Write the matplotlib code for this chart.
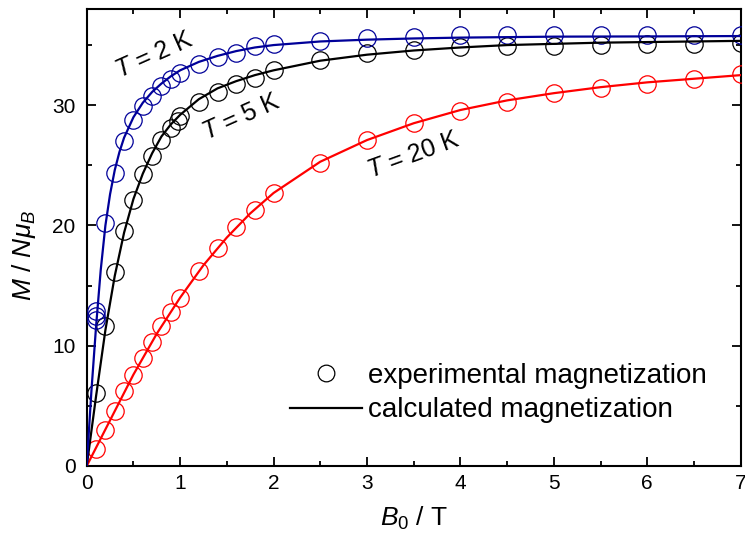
import matplotlib
matplotlib.use("Agg")
import matplotlib.pyplot as plt
from matplotlib.ticker import MultipleLocator
from matplotlib.lines import Line2D

FONT = 'Liberation Sans'
plt.rcParams['font.family'] = [FONT, 'DejaVu Sans']
plt.rcParams['mathtext.fontset'] = 'custom'
plt.rcParams['mathtext.rm'] = FONT
plt.rcParams['mathtext.it'] = FONT + ':italic'

# experimental data
x2 = [0.1, 0.1, 0.1, 0.2, 0.3, 0.4, 0.5, 0.6, 0.7, 0.8, 0.9, 1.0, 1.2, 1.4, 1.6, 1.8, 2.0,
      2.5, 3.0, 3.5, 4.0, 4.5, 5.0, 5.5, 6.0, 6.5, 7.0]
y2 = [12.9, 12.5, 12.1, 20.2, 24.4, 27.0, 28.8, 29.9, 30.8, 31.6, 32.2, 32.7, 33.4, 34.0, 34.3, 34.9, 35.1,
      35.3, 35.6, 35.7, 35.8, 35.8, 35.8, 35.8, 35.8, 35.8, 35.8]
x5 = [0.1, 0.2, 0.3, 0.4, 0.5, 0.6, 0.7, 0.8, 0.9, 0.98, 1.0, 1.2, 1.4, 1.6, 1.8, 2.0,
      2.5, 3.0, 3.5, 4.0, 4.5, 5.0, 5.5, 6.0, 6.5, 7.0]
y5 = [6.1, 11.6, 16.1, 19.5, 22.1, 24.3, 25.8, 27.1, 28.1, 28.7, 29.1, 30.25, 31.1, 31.8, 32.3, 32.9,
      33.75, 34.3, 34.6, 34.8, 34.9, 34.95, 35.0, 35.1, 35.1, 35.2]
x20 = [0.1, 0.2, 0.3, 0.4, 0.5, 0.6, 0.7, 0.8, 0.9, 1.0, 1.2, 1.4, 1.6, 1.8, 2.0,
       2.5, 3.0, 3.5, 4.0, 4.5, 5.0, 5.5, 6.0, 6.5, 7.0]
y20 = [1.4, 3.0, 4.6, 6.2, 7.6, 9.0, 10.3, 11.6, 12.8, 14.0, 16.2, 18.1, 19.9, 21.3, 22.7,
       25.2, 27.1, 28.5, 29.5, 30.3, 31.0, 31.4, 31.8, 32.2, 32.6]

# calculated curves
xc2 = [0, 0.05, 0.1, 0.15, 0.2, 0.25, 0.3, 0.35, 0.4, 0.5, 0.6, 0.7, 0.8, 0.9, 1.0, 1.2, 1.4, 1.6, 1.8, 2.0,
       2.5, 3.0, 3.5, 4.0, 5.0, 6.0, 7.0]
yc2 = [0, 6.2, 11.6, 16.3, 20.0, 22.6, 24.6, 26.1, 27.3, 29.0, 30.2, 31.1, 31.8, 32.4, 32.9, 33.6, 34.1, 34.5, 34.8, 35.0,
       35.3, 35.45, 35.55, 35.62, 35.7, 35.72, 35.75]
xc5 = [0, 0.1, 0.2, 0.3, 0.4, 0.5, 0.6, 0.7, 0.8, 0.9, 1.0, 1.2, 1.4, 1.6, 1.8, 2.0,
       2.5, 3.0, 3.5, 4.0, 4.5, 5.0, 5.5, 6.0, 6.5, 7.0]
yc5 = [0, 5.8, 11.3, 15.8, 19.4, 22.2, 24.3, 26.0, 27.4, 28.4, 29.2, 30.5, 31.4, 32.0, 32.5, 32.9,
       33.7, 34.2, 34.55, 34.8, 35.0, 35.1, 35.2, 35.25, 35.3, 35.35]
xc20 = [0, 0.25, 0.5, 0.75, 1.0, 1.25, 1.5, 1.75, 2.0, 2.5, 3.0, 3.5, 4.0, 4.5, 5.0, 5.5, 6.0, 6.5, 7.0]
yc20 = [0, 3.8, 7.6, 11.0, 14.0, 16.7, 19.0, 21.0, 22.7, 25.3, 27.1, 28.5, 29.6, 30.4, 31.0, 31.5, 31.9, 32.2, 32.5]

blue = '#000099'
red = '#ff0000'
black = '#000000'

fig = plt.figure(figsize=(7.45, 5.45), dpi=100)
ax = fig.add_axes([0.1164, 0.145, 0.8778, 0.8385])

ms = 12.5
for xc, yc, xe, ye, c in [(xc20, yc20, x20, y20, red), (xc5, yc5, x5, y5, black), (xc2, yc2, x2, y2, blue)]:
    ax.plot(xe, ye, 'o', mfc='none', mec=c, ms=ms, mew=0.9, zorder=3)
    ax.plot(xc, yc, '-', color=c, lw=1.6, zorder=4)

ax.set_xlim(0, 7)
ax.set_ylim(0, 38)
ax.xaxis.set_major_locator(MultipleLocator(1))
ax.xaxis.set_minor_locator(MultipleLocator(0.5))
ax.yaxis.set_major_locator(MultipleLocator(10))
ax.yaxis.set_minor_locator(MultipleLocator(5))
ax.tick_params(which='both', direction='in', top=True, right=True, width=1.3)
ax.tick_params(which='major', length=6.5, labelsize=15)
ax.tick_params(axis='x', which='major', pad=6)
ax.tick_params(axis='y', which='major', pad=8)
ax.tick_params(which='minor', length=3.6)
for s in ax.spines.values():
    s.set_linewidth(1.5)

ax.set_xlabel(r'$B_0$ / T', fontsize=19, labelpad=8)
ax.set_ylabel(r'$M$ / $N\mu_B$', fontsize=19)
ax.yaxis.set_label_coords(-0.075, 0.46)

ax.text(0.72, 34.2, r'$T$ = 2 K', fontsize=18, rotation=24, ha='center', va='center')
ax.text(1.65, 29.0, r'$T$ = 5 K', fontsize=18, rotation=24, ha='center', va='center')
ax.text(3.50, 25.9, r'$T$ = 20 K', fontsize=18, rotation=20, ha='center', va='center')

handles = [Line2D([], [], ls='none', marker='o', mfc='none', mec='k', ms=12, mew=0.9),
           Line2D([], [], color='k', lw=1.6)]
ax.legend(handles, ['experimental magnetization', 'calculated magnetization'],
          loc='upper left', bbox_to_anchor=(0.311, 0.225), frameon=False, fontsize=20,
          handlelength=2.6, handletextpad=0.2, labelspacing=0.3,
          borderpad=0, borderaxespad=0)

fig.savefig('out.png', dpi=100)
